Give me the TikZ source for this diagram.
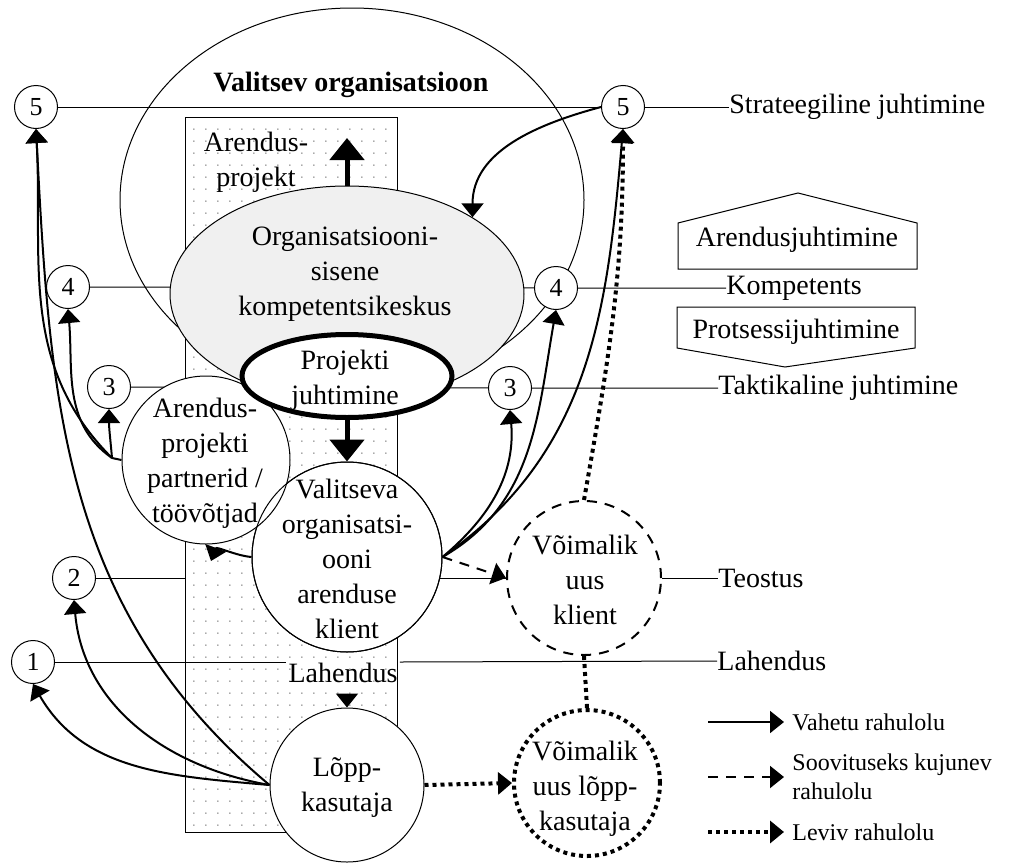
\documentclass[tikz,border=0pt]{standalone}
\usepackage{fontspec}
\setmainfont{Liberation Serif}
\usetikzlibrary{arrows.meta,shapes.geometric,patterns.meta}
\definecolor{keskhall}{RGB}{240,240,240}
\tikzdeclarepattern{name=tapid,type=uncolored,
  bounding box={(0pt,0pt) and (6pt,6pt)},tile size={(6pt,6pt)},
  code={\fill (1pt,1pt) circle (0.45pt);}}
\tikzset{
  tase/.style={circle,draw,line width=0.5pt,fill=white,minimum size=21.5pt,inner sep=0pt,font=\fontsize{13}{15}\selectfont},
  ring/.style={circle,draw,line width=0.5pt,fill=white,inner sep=0pt},
  tekst/.style={align=center,inner sep=0pt},
  tasetekst/.style={anchor=west,inner sep=0pt},
  legend/.style={anchor=west,inner sep=0pt,align=left,font=\fontsize{12}{14.5}\selectfont},
  vahetu/.style={line width=1pt,-{Triangle[length=7pt,width=11pt]}},
  soovitus/.style={vahetu,dash pattern=on 5pt off 4pt},
  leviv/.style={line width=2pt,dash pattern=on 2pt off 2pt,-{Triangle[length=7pt,width=11pt]}},
  suur/.style={line width=2.5pt,-{Triangle[length=11pt,width=17pt]}}
}
\begin{document}
\begin{tikzpicture}[x=5pt,y=5pt,font=\fontsize{14}{17.5}\selectfont]
\useasboundingbox[fill=white] (0,0) rectangle (103.2,-86.2);
% valitsev organisatsioon
\node[ellipse,draw,line width=0.5pt,minimum width=232pt,minimum height=192pt] (org) at (35.2,-20.0) {};
\node[font=\fontsize{14}{17.5}\selectfont\bfseries] (title) at (35.1,-8.5) {Valitsev organisatsioon};
% level numbers
\node[tase] (n5L) at (3.6,-10.7) {5};
\node[tase] (n5R) at (62.3,-10.7) {5};
\node[tase] (n4L) at (6.8,-28.7) {4};
\node[tase] (n4R) at (55.6,-28.8) {4};
\node[tase] (n3L) at (10.9,-38.7) {3};
\node[tase] (n3R) at (51.0,-38.8) {3};
\node[tase] (n2) at (7.4,-57.8) {2};
\node[tase] (n1) at (3.3,-66.2) {1};
\node[tasetekst] (strat) at (72.9,-10.7) {Strateegiline juhtimine};
\node[tasetekst] (komp) at (72.6,-28.8) {Kompetents};
\node[tasetekst] (takt) at (71.8,-38.8) {Taktikaline juhtimine};
\node[tasetekst] (teos) at (71.8,-57.8) {Teostus};
\node[tasetekst] (lahR) at (71.7,-66.1) {Lahendus};
\node[ring,dash pattern=on 5pt off 4pt,line width=1pt,minimum size=77pt] (vuk) at (58.4,-57.8) {};
% level lines
\draw[line width=0.5pt] (n5L) -- (n5R) -- (strat.west);
\draw[line width=0.5pt] (n4L) -- (n4R) -- (komp.west);
\draw[line width=0.5pt] (n3L) -- (n3R) -- (takt.west);
\draw[line width=0.5pt] (n2) -- (vuk) -- (teos.west);
% arendusprojekt
\draw[line width=0.5pt,preaction={fill=white},pattern=tapid,pattern color=black!45] (18.5,-11.7) rectangle (39.7,-83.2);
\node[tekst] (arpr) at (25.6,-16.2) {Arendus-\\projekt};
\node[ellipse,draw,line width=0.5pt,fill=keskhall,minimum width=177pt,minimum height=108pt] (cc) at (34.7,-29.4) {};
\node[tekst] (ccT) at (34.5,-27.4) {Organisatsiooni-\\sisene\\kompetentsikeskus};
\coordinate (upTip) at (34.7,-13.8);
\draw[suur] (cc.north) -- (upTip);
% circles
\node[ring,minimum size=95pt] (klient) at (34.7,-55.7) {};
\node[ring,minimum size=84pt] (partner) at (20.6,-46.0) {};
\draw[line width=0.5pt] (klient.center) circle[radius=47.5pt];
\node[tekst] (partnerT) at (20.5,-46.3) {Arendus-\\projekti\\partnerid /\\töövõtjad};
\node[tekst] (klientT) at (34.7,-55.9) {Valitseva\\organisatsi-\\ooni\\arenduse\\klient};
\node[ellipse,draw,line width=2.5pt,fill=white,minimum width=105pt,minimum height=41.5pt] (pj) at (34.7,-37.6) {};
\node[tekst] (pjT) at (34.5,-38.0) {Projekti\\juhtimine};
\draw[suur] (pj.south) -- (klient.north);
\node[ring,minimum size=77pt] (lopp) at (34.7,-78.5) {};
\node[tekst] (loppT) at (34.7,-78.8) {Lõpp-\\kasutaja};
\node[tekst] (vukT) at (58.5,-58.0) {Võimalik\\uus\\klient};
\node[ring,line width=2pt,dash pattern=on 2pt off 2pt,minimum size=73pt] (vul) at (58.7,-78.3) {};
\node[tekst] (vulT) at (58.5,-78.9) {Võimalik\\uus lõpp-\\kasutaja};
% lahendus
\node[inner sep=1pt] (lah) at (34.3,-67.3) {Lahendus};
\draw[line width=0.5pt] (n1) -- (lah.west |- n1);
\draw[line width=0.5pt] (lah.east |- n1) -- (lahR.west);
\draw[vahetu] ([yshift=7pt]lopp.north) -- (lopp.north);
% rahulolu
\coordinate (pA) at (11.2,-45.8);
\coordinate (pB) at (21.1,-56.1);
\draw[line width=1pt] (partner.west) -- (pA);
\draw[vahetu] (pA) to[out=95,in=-90] (n3L.south);
\draw[vahetu] (pA) to[out=145,in=-85] (n4L.south);
\draw[vahetu] (pA) to[out=135,in=-87] (n5L.south);
\draw[vahetu] (lopp.west) to[out=175,in=-60] (n1.south);
\draw[vahetu] (lopp.west) to[out=170,in=-85] (n2.south);
\draw[vahetu] (lopp.west) to[out=140,in=-87] (n5L.south);
\draw[vahetu] (klient.east) to[out=40,in=-85] (n3R.south);
\draw[vahetu] (klient.east) to[out=30,in=-100] (n4R.south);
\draw[vahetu] (klient.east) to[out=35,in=-95] (n5R.south);
\draw[vahetu] (klient.west) to[out=175,in=70] (pB);
\draw[vahetu] (n5R.west) to[out=195,in=90] (cc.north east);
\draw[soovitus] (klient.east) -- (vuk.west);
\draw[leviv] (vuk.north) to[out=80,in=-90] (n5R.south);
\draw[leviv] (lopp.east) -- (vul.west);
\draw[leviv,-] (vuk.south) -- (vul.north);
% juhtimine
\node (arj) at (79.7,-24.0) {Arendusjuhtimine};
\node (prj) at (79.6,-33.2) {Protsessijuhtimine};
\draw[line width=0.5pt] (67.8,-26.9) -- (67.8,-22.3) -- (79.8,-19.3) -- (91.7,-22.3) -- (91.7,-26.9) -- cycle;
\draw[line width=0.5pt] (67.7,-30.7) -- (91.5,-30.7) -- (91.5,-34.8) -- (78.5,-36.7) -- (67.7,-34.8) -- cycle;
% legend
\node[legend] (lg1) at (79.2,-72.2) {Vahetu rahulolu};
\node[legend] (lg2) at (79.2,-77.7) {Soovituseks kujunev\\rahulolu};
\node[legend] (lg3) at (79.2,-83.2) {Leviv rahulolu};
\draw[vahetu] ([xshift=-42pt]lg1.west) -- ([xshift=-4pt]lg1.west);
\draw[soovitus] ([xshift=-42pt]lg2.west) -- ([xshift=-4pt]lg2.west);
\draw[leviv] ([xshift=-42pt]lg3.west) -- ([xshift=-4pt]lg3.west);
\end{tikzpicture}
\end{document}
